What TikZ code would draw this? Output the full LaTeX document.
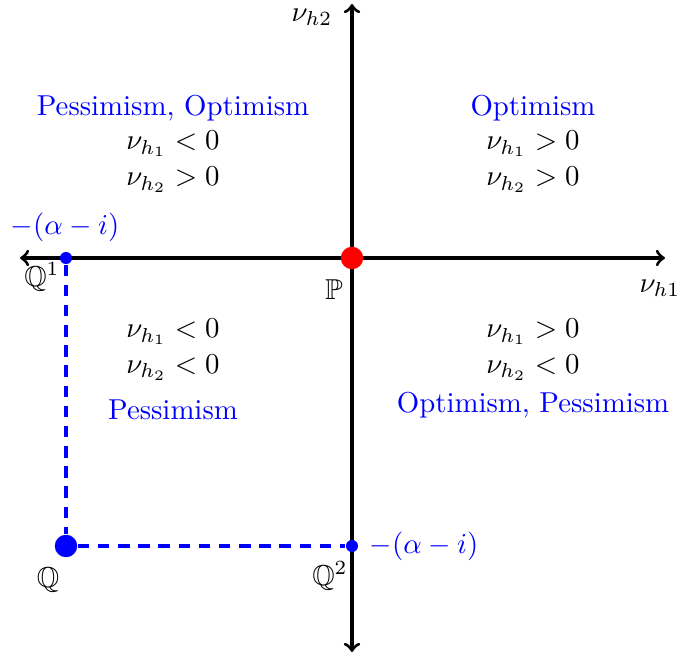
\documentclass[tikz,border=0pt]{standalone}
\usepackage{amssymb}
\begin{document}
\begin{tikzpicture}[x=0.3472pt,y=-0.3472pt,
  axis/.style={line width=1.1pt,black},
  bluetxt/.style={text=blue},
  dashline/.style={blue,dashed,line width=1.1pt,dash pattern=on 4pt off 3pt},
  smalldot/.style={circle,fill=blue,inner sep=0pt,minimum size=4.2pt},
  bigdot/.style={circle,fill=blue,inner sep=0pt,minimum size=7.8pt},
  reddot/.style={circle,fill=red,inner sep=0pt,minimum size=7.8pt}]
\useasboundingbox (0,0) rectangle (694,659);
% axis end points
\coordinate (xl) at (20,258);
\coordinate (xr) at (665,258);
\coordinate (yt) at (352,4);
\coordinate (yb) at (352,652);
\draw[axis,<->] (xl) -- (xr);
\draw[axis,<->] (yb) -- (yt);
\node (nh1) at (660,288) {$\nu_{h1}$};
\node (nh2) at (312,17) {$\nu_{h2}$};
% points
\node[reddot] (P) at (352,258) {};
\node[smalldot] (Q1) at (66,258) {};
\node[bigdot] (Q) at (66,546) {};
\node[smalldot] (Q2) at (352,546) {};
\draw[dashline] (Q1) -- (Q);
\draw[dashline] (Q) -- (Q2);
\node (Pl) at (334,290) {$\mathbb{P}$};
\node (Q1l) at (42,277) {$\mathbb{Q}^1$};
\node (Ql) at (48,580) {$\mathbb{Q}$};
\node (Q2l) at (330,576) {$\mathbb{Q}^2$};
\node[bluetxt] (a1) at (65,227) {$-(\alpha-i)$};
\node[bluetxt] (a2) at (424,546) {$-(\alpha-i)$};
% quadrant texts
\node[bluetxt] (tl0) at (173,108) {Pessimism, Optimism};
\node (tl1) at (173,144) {$\nu_{h_1}<0$};
\node (tl2) at (173,180) {$\nu_{h_2}>0$};
\node[bluetxt] (tr0) at (533,108) {Optimism};
\node (tr1) at (533,144) {$\nu_{h_1}>0$};
\node (tr2) at (533,180) {$\nu_{h_2}>0$};
\node (bl1) at (173,332) {$\nu_{h_1}<0$};
\node (bl2) at (173,368) {$\nu_{h_2}<0$};
\node[bluetxt] (bl0) at (173,410) {Pessimism};
\node (br1) at (533,332) {$\nu_{h_1}>0$};
\node (br2) at (533,368) {$\nu_{h_2}<0$};
\node[bluetxt] (br0) at (533,405) {Optimism, Pessimism};
\end{tikzpicture}
\end{document}
